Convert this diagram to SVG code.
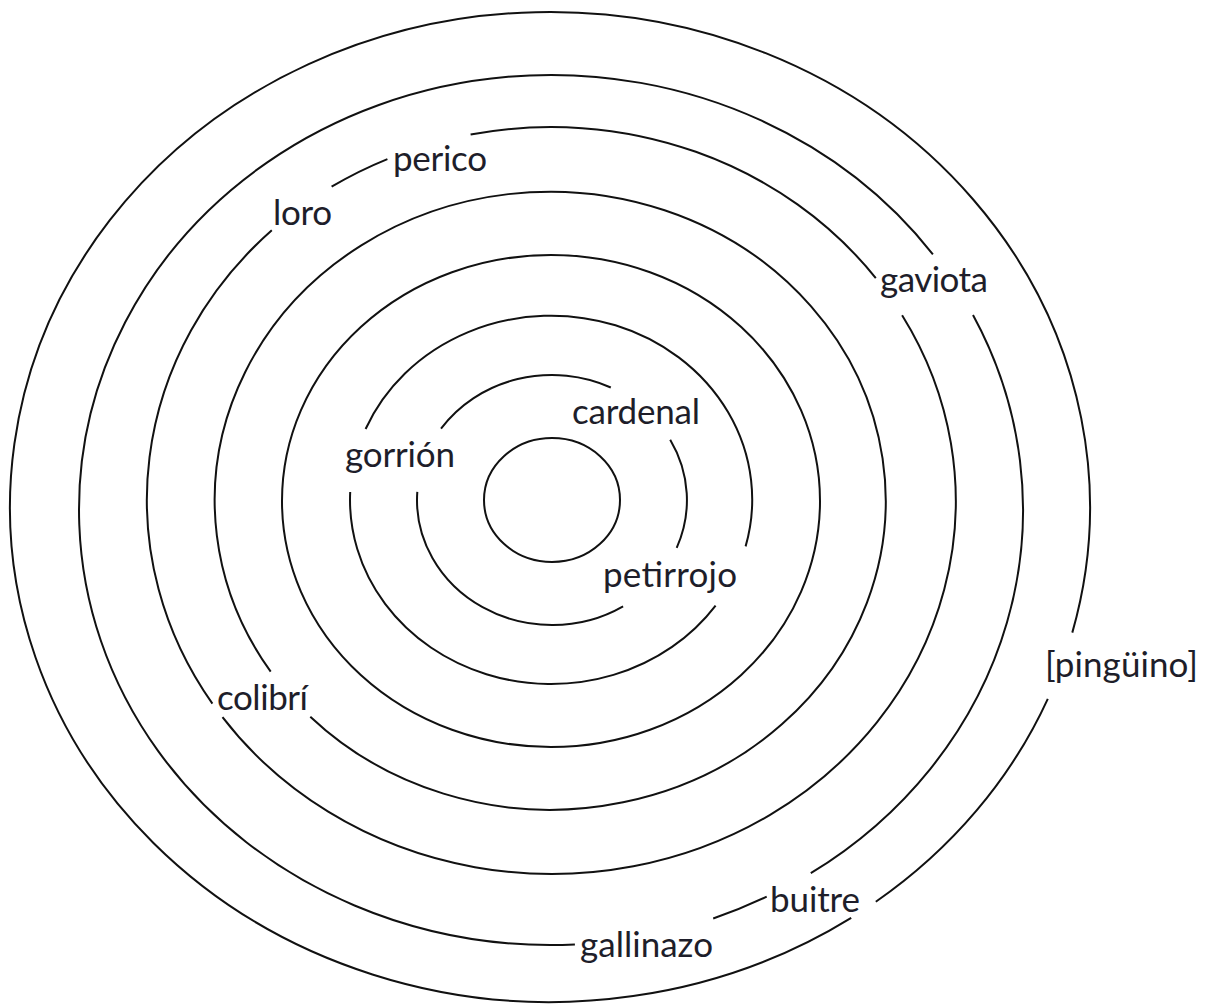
<svg xmlns="http://www.w3.org/2000/svg" width="1211" height="1007" viewBox="0 0 1211 1007">
<style>
.ring{fill:none;stroke:#111;stroke-width:2}
.lbl{font-family:Lato,"Open Sans","Liberation Sans",sans-serif;font-size:35px;fill:#1e1e2a}
</style>
<rect width="1211" height="1007" fill="#fff"/>
<g id="connectors">
<ellipse class="ring" cx="552" cy="500" rx="68" ry="62"/>
<path class="ring" d="M441.0,428.7 A135,125 0 0 1 610.8,387.5"/>
<path class="ring" d="M670.2,439.8 A135,125 0 0 1 676.7,547.8"/>
<path class="ring" d="M623.1,606.3 A135,125 0 0 1 417.3,491.9"/>
<path class="ring" d="M365.6,429.0 A201,184 0 0 1 745.6,546.4"/>
<path class="ring" d="M715.6,605.6 A201,184 0 0 1 350.2,492.0"/>
<ellipse class="ring" cx="551" cy="501" rx="269" ry="246"/>
<path class="ring" d="M270.7,671.6 A335.5,309 0 1 1 310.3,716.7"/>
<path class="ring" d="M212.4,703.7 A404,373 0 0 1 271.8,230.3"/>
<path class="ring" d="M331.6,186.7 A404,373 0 0 1 387.4,159.1"/>
<path class="ring" d="M470.6,134.5 A404,373 0 0 1 875.8,278.1"/>
<path class="ring" d="M902.1,315.2 A404,373 0 0 1 222.5,717.1"/>
<path class="ring" d="M973.0,315.1 A472,435 0 0 1 810.8,873.2"/>
<path class="ring" d="M766.7,896.7 A472,435 0 0 1 713.2,918.5"/>
<path class="ring" d="M574.9,944.4 A472,435 0 1 1 932.9,254.3"/>
<path class="ring" d="M1047.8,698.8 A540,495 0 0 1 875.8,901.8"/>
<path class="ring" d="M851.2,917.8 A540,495 0 1 1 1072.3,632.6"/>
</g>
<g id="perico"><text class="lbl" x="393" y="171" textLength="94">perico</text></g>
<g id="loro"><text class="lbl" x="273" y="225" textLength="59">loro</text></g>
<g id="gaviota"><text class="lbl" x="880" y="292" textLength="108">gaviota</text></g>
<g id="cardenal"><text class="lbl" x="572" y="424" textLength="128">cardenal</text></g>
<g id="gorrion"><text class="lbl" x="345" y="467" textLength="110">gorrión</text></g>
<g id="petirrojo"><text class="lbl" x="603" y="587" textLength="134">petirrojo</text></g>
<g id="colibri"><text class="lbl" x="217" y="710" textLength="91">colibrí</text></g>
<g id="pinguino"><text class="lbl" x="1045" y="677" textLength="153">[pingüino]</text></g>
<g id="buitre"><text class="lbl" x="770" y="912" textLength="90">buitre</text></g>
<g id="gallinazo"><text class="lbl" x="580" y="957" textLength="133">gallinazo</text></g>
</svg>
